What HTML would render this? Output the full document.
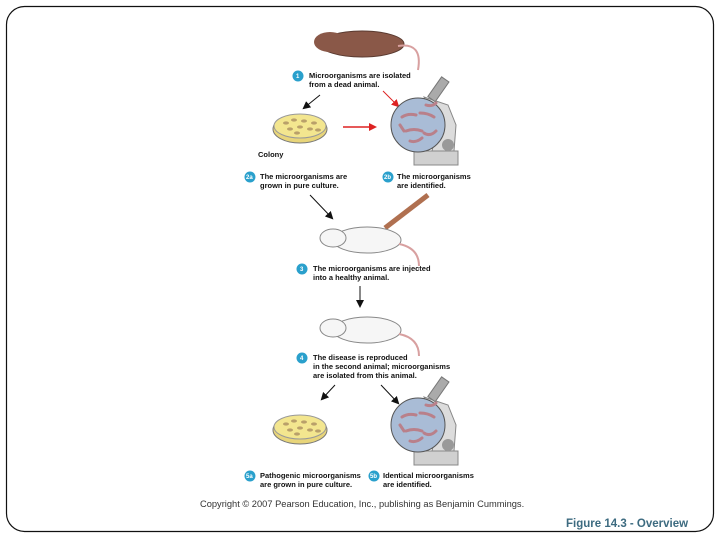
<!DOCTYPE html>
<html><head><style>
body{margin:0;width:720px;height:540px;background:#fff;overflow:hidden}
svg{display:block}
text{font-family:"Liberation Sans",sans-serif}
.t{font-size:7.5px;fill:#111;font-weight:bold}
.b{font-size:6px;fill:#fff;font-weight:bold}
</style></head><body>
<svg width="720" height="540" viewBox="0 0 720 540">
<defs>
<marker id="ak" markerWidth="8" markerHeight="8" refX="6" refY="4" orient="auto" markerUnits="userSpaceOnUse"><path d="M0,0 L8,4 L0,8z" fill="#111"/></marker>
<marker id="ar" markerWidth="8" markerHeight="8" refX="6" refY="4" orient="auto" markerUnits="userSpaceOnUse"><path d="M0,0 L8,4 L0,8z" fill="#d22"/></marker>
<g id="dish">
<ellipse cx="0" cy="3" rx="27" ry="14" fill="#e8d57a" stroke="#777"/>
<ellipse cx="0" cy="0" rx="26" ry="12" fill="#f3e68f" stroke="#999"/>
<g fill="#b9a06a"><ellipse cx="-14" cy="-3" rx="3" ry="1.6"/><ellipse cx="-6" cy="-6" rx="3" ry="1.6"/><ellipse cx="4" cy="-5" rx="3" ry="1.6"/><ellipse cx="14" cy="-3" rx="3" ry="1.6"/><ellipse cx="-10" cy="3" rx="3" ry="1.6"/><ellipse cx="0" cy="1" rx="3" ry="1.6"/><ellipse cx="10" cy="3" rx="3" ry="1.6"/><ellipse cx="-3" cy="7" rx="3" ry="1.6"/><ellipse cx="18" cy="4" rx="3" ry="1.6"/></g>
</g>
<g id="scope">
<rect x="-4" y="26" width="44" height="14" fill="#d0d0d0" stroke="#888"/>
<path d="M6,-28 L30,-20 L38,0 L36,26 L14,26 L20,0z" fill="#dcdcdc" stroke="#888"/>
<rect x="16" y="-48" width="9" height="24" fill="#aaa" stroke="#777" transform="rotate(35 20 -36)"/>
<circle cx="30" cy="20" r="6" fill="#999"/>
<circle cx="0" cy="0" r="27" fill="#a9bcd6" stroke="#555"/>
<g stroke="#b9808a" stroke-width="3" stroke-linecap="round" fill="none"><path d="M-16,-8 q6,-4 14,-2"/><path d="M2,-12 q8,0 14,4"/><path d="M-12,6 q8,-3 16,0"/><path d="M6,8 q6,4 12,-2"/><path d="M-8,16 q6,2 12,-3"/><path d="M-18,0 l4,6"/><path d="M8,-20 q6,2 10,-2"/></g>
</g>
<g id="rat">
<ellipse cx="2" cy="0" rx="34" ry="13" fill="#f6f6f6" stroke="#888"/>
<ellipse cx="-32" cy="-2" rx="13" ry="9" fill="#f6f6f6" stroke="#888"/>
<path d="M34,4 q20,4 20,22" fill="none" stroke="#d8a0a0" stroke-width="2"/>
</g>
<g id="badge"><circle r="5.5" fill="#2aa0cc"/></g>
</defs>
<rect x="6.5" y="6.5" width="707" height="525" rx="18" fill="none" stroke="#111" stroke-width="1.2"/>
<!-- dead rat -->
<ellipse cx="362" cy="44" rx="42" ry="13" fill="#8a5848" stroke="#5a3a30"/>
<ellipse cx="330" cy="42" rx="16" ry="10" fill="#8a5848"/>
<path d="M398,46 q25,-4 20,24" fill="none" stroke="#d8a0a0" stroke-width="2"/>
<use href="#badge" x="298" y="76"/><text class="b" x="296" y="78">1</text>
<text class="t" x="309" y="78">Microorganisms are isolated</text>
<text class="t" x="309" y="87">from a dead animal.</text>
<line x1="320" y1="95" x2="304" y2="108" stroke="#111" marker-end="url(#ak)"/>
<line x1="383" y1="91" x2="398" y2="106" stroke="#d22" marker-end="url(#ar)"/>
<use href="#dish" x="300" y="126"/>
<line x1="343" y1="127" x2="375" y2="127" stroke="#d22" stroke-width="1.5" marker-end="url(#ar)"/>
<use href="#scope" x="418" y="125"/>
<text class="t" x="258" y="157">Colony</text>
<use href="#badge" x="250" y="177"/><text class="b" x="246" y="179">2a</text>
<text class="t" x="260" y="179">The microorganisms are</text>
<text class="t" x="260" y="188">grown in pure culture.</text>
<use href="#badge" x="388" y="177"/><text class="b" x="384" y="179">2b</text>
<text class="t" x="397" y="179">The microorganisms</text>
<text class="t" x="397" y="188">are identified.</text>
<line x1="310" y1="195" x2="332" y2="218" stroke="#111" marker-end="url(#ak)"/>
<line x1="385" y1="228" x2="428" y2="195" stroke="#b07050" stroke-width="5"/>
<use href="#rat" x="365" y="240"/>
<use href="#badge" x="302" y="269"/><text class="b" x="300" y="271">3</text>
<text class="t" x="313" y="271">The microorganisms are injected</text>
<text class="t" x="313" y="280">into a healthy animal.</text>
<line x1="360" y1="286" x2="360" y2="306" stroke="#111" marker-end="url(#ak)"/>
<use href="#rat" x="365" y="330"/>
<use href="#badge" x="302" y="358"/><text class="b" x="300" y="360">4</text>
<text class="t" x="313" y="360">The disease is reproduced</text>
<text class="t" x="313" y="369">in the second animal; microorganisms</text>
<text class="t" x="313" y="378">are isolated from this animal.</text>
<line x1="335" y1="385" x2="322" y2="399" stroke="#111" marker-end="url(#ak)"/>
<line x1="381" y1="385" x2="398" y2="403" stroke="#111" marker-end="url(#ak)"/>
<use href="#dish" x="300" y="427"/>
<use href="#scope" x="418" y="425"/>
<use href="#badge" x="250" y="476"/><text class="b" x="246" y="478">5a</text>
<text class="t" x="260" y="478">Pathogenic microorganisms</text>
<text class="t" x="260" y="487">are grown in pure culture.</text>
<use href="#badge" x="374" y="476"/><text class="b" x="370" y="478">5b</text>
<text class="t" x="383" y="478">Identical microorganisms</text>
<text class="t" x="383" y="487">are identified.</text>
<text x="200" y="507" style="font-size:9.3px;fill:#333">Copyright © 2007 Pearson Education, Inc., publishing as Benjamin Cummings.</text>
<text x="566" y="527" style="font-size:11.5px;fill:#3d6b80;font-weight:bold">Figure 14.3 - Overview</text>
</svg>
</body></html>
